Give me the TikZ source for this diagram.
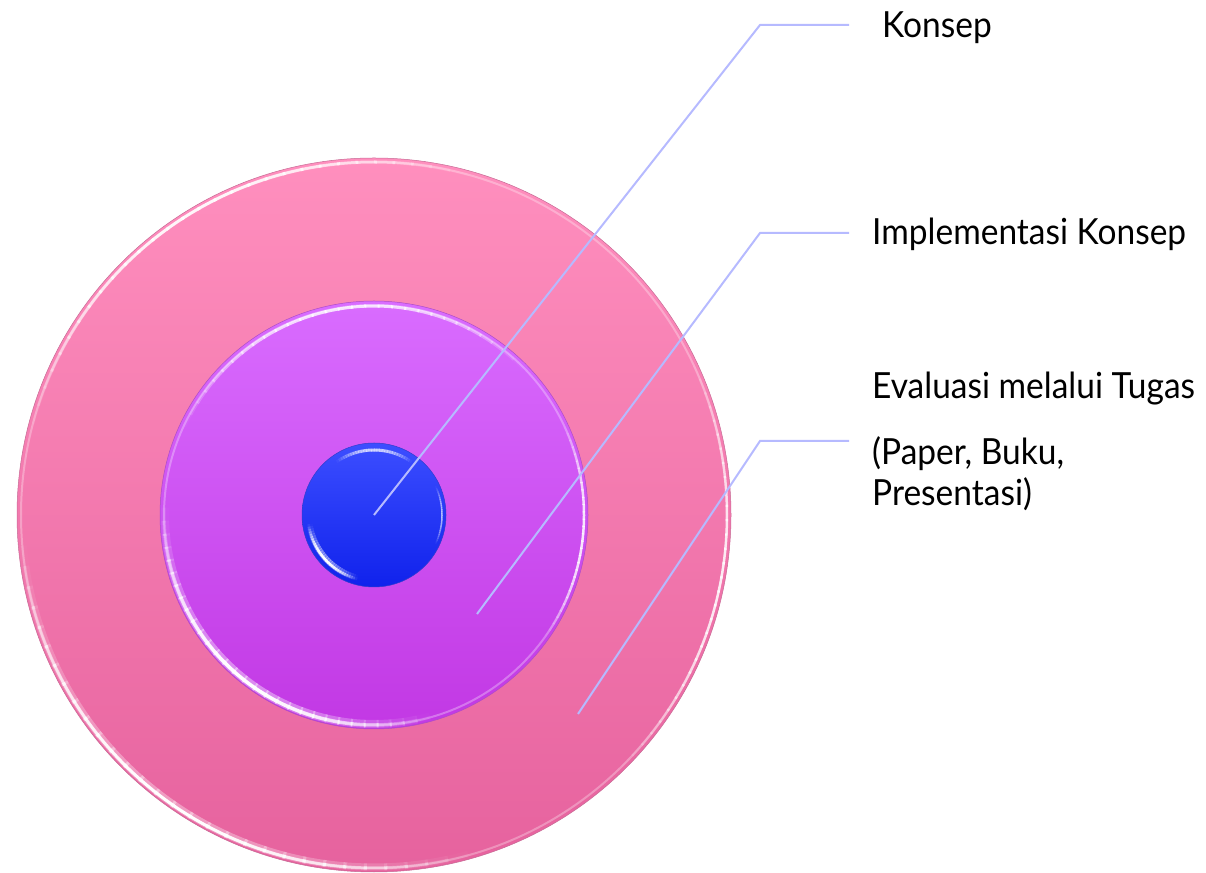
\documentclass[tikz,border=0pt]{standalone}
\usepackage{fontspec}
\setmainfont{Lato}[FakeStretch=0.93]
\usetikzlibrary{calc}
\definecolor{outertop}{RGB}{255,143,190}
\definecolor{outerbot}{RGB}{230,98,158}
\definecolor{midtop}{RGB}{217,108,255}
\definecolor{midbot}{RGB}{194,56,228}
\definecolor{innertop}{RGB}{60,78,255}
\definecolor{innerbot}{RGB}{16,34,236}
\definecolor{leader}{RGB}{182,186,255}
\newcommand\glossarc[6]{%
  \foreach \i in {0,...,29}{%
    \pgfmathsetmacro\sa{#3+(#4-#3)*\i/30}%
    \pgfmathsetmacro\ea{#3+(#4-#3)*(\i+1.15)/30}%
    \pgfmathsetmacro\op{#5*sin(180*(\i+0.5)/30)}%
    \draw[white, line width=#6, opacity=\op] ($(#1.center)+(\sa:#2)$) arc[start angle=\sa, end angle=\ea, radius=#2];
  }}
\begin{document}
\begin{tikzpicture}[x=1pt,y=1pt,
  disc/.style={circle, inner sep=0pt, draw=#1, line width=0.5pt},
  leaderline/.style={draw=leader, line width=2pt},
  lbl/.style={anchor=base west, inner sep=0pt, font=\fontsize{36}{41}\selectfont, text=black}]
\useasboundingbox (0,0) rectangle (1206,872);
% outer disc
\node[disc=outerbot!70!gray, minimum size=714pt, top color=outertop, bottom color=outerbot] (outer) at (374,357) {};
\draw[white, opacity=0.3, line width=2pt] (outer.center) circle[radius=353pt];
\glossarc{outer}{353pt}{165}{75}{0.9}{3pt}
\glossarc{outer}{353pt}{185}{285}{1}{3pt}
\glossarc{outer}{353pt}{25}{-45}{0.8}{2.5pt}
\glossarc{outer}{352pt}{185}{285}{0.35}{7pt}
% middle disc
\node[disc=midbot!70!gray, minimum size=428pt, top color=midtop, bottom color=midbot] (mid) at (374,357) {};
\draw[white, opacity=0.3, line width=2pt] (mid.center) circle[radius=210pt];
\glossarc{mid}{209pt}{155}{45}{0.8}{3pt}
\glossarc{mid}{210pt}{178}{285}{1}{3.5pt}
\glossarc{mid}{209pt}{178}{285}{0.4}{8pt}
\glossarc{mid}{210pt}{25}{-35}{0.8}{2.5pt}
% inner disc
\node[disc=innerbot!70!gray, minimum size=144pt, top color=innertop, bottom color=innerbot] (inner) at (374,357) {};
\glossarc{inner}{65pt}{125}{55}{0.7}{3pt}
\glossarc{inner}{66pt}{188}{255}{1}{2.5pt}
\glossarc{inner}{65pt}{188}{255}{0.4}{6pt}
\glossarc{inner}{68pt}{25}{-25}{0.6}{1.5pt}
% leader points
\coordinate (p1) at (inner.center);
\coordinate (p2) at (477,258);
\coordinate (p3) at (578,158);
\coordinate (k1) at (760,847);
\coordinate (k2) at (760,639);
\coordinate (k3) at (760,431);
\coordinate (e1) at (849,847);
\coordinate (e2) at (849,639);
\coordinate (e3) at (849,431);
\draw[leaderline] (p1) -- (k1) -- (e1);
\draw[leaderline] (p2) -- (k2) -- (e2);
\draw[leaderline] (p3) -- (k3) -- (e3);
% labels
\node[lbl] (t1) at (882,834) {Konsep};
\node[lbl] (t2) at (872,627) {Implementasi Konsep};
\node[lbl] (t3) at (872,473) {Evaluasi melalui Tugas};
\node[lbl] (t4) at (872,407) {(Paper, Buku,};
\node[lbl] (t5) at (872,366) {Presentasi)};
\end{tikzpicture}
\end{document}
